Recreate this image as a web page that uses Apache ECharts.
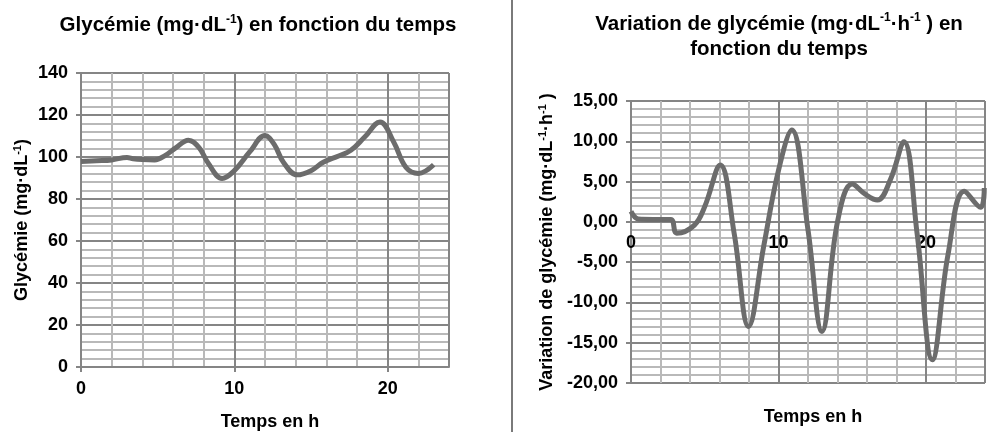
<!DOCTYPE html>
<html lang="fr">
<head>
    <meta charset="UTF-8">
    <title>Glycémie</title>
    <script src="https://cdn.jsdelivr.net/npm/echarts@6/dist/echarts.min.js"></script>
    <style>
        html, body { margin: 0; padding: 0; background: #fff; }
    </style>
</head>
<body>
<div id="main" style="width: 1000px;height:436px;"></div>
</body>
<script type="text/javascript">
    // glycémie (mg/dL) relevée au cours du temps (h)
    var glyTime = [0, 1, 2, 3, 3.4, 4, 4.8, 5.5, 6.2, 7, 7.7, 8.3, 9.2, 10, 11, 12, 12.6, 13.2, 14.1, 15, 15.8, 16.8, 17.6, 18.5, 19.5, 20.4, 21.2, 22, 23];
    var glyValue = [97.8, 98.2, 98.6, 99.8, 99.2, 98.8, 98.6, 100.8, 104.5, 108, 104.5, 97, 89.8, 93.5, 102.4, 110.2, 106, 97.5, 91.5, 93.5, 97.5, 100.5, 103.2, 109.5, 116.7, 107, 95, 92.2, 96.3];

    // variation de glycémie (mg/dL/h)
    var varTime = [0, 0.5, 1.5, 2.7, 3.1, 4.3, 5, 6.05, 7, 7.97, 9, 10, 10.9, 12, 12.95, 14, 15, 15.9, 16.7, 17.6, 18.5, 19.4, 20.43, 21.5, 22.6, 23.7, 23.95];
    var varValue = [1.3, 0.35, 0.3, 0.3, -1.4, -0.4, 1.9, 7.06, -1.5, -13, -3, 6.4, 11.4, -1, -13.6, 0, 4.7, 3.4, 2.7, 5.3, 9.95, -1.5, -17.1, -4, 3.8, 1.8, 4.2];

    // graduations
    var xTicks = [0, 10, 20];
    var glyTicks = [0, 20, 40, 60, 80, 100, 120, 140];
    var varTicks = [-20, -15, -10, -5, 0, 5, 10, 15];

    var police = 'Liberation Sans';
    var noir = '#000';
    var gris = '#6c6c6c';
    var grilleFine = '#b9b9b9';
    var grilleForte = '#858585';

    // zones de tracé
    var grille1 = { left: 81, top: 73, width: 368, height: 294 };
    var grille2 = { left: 631, top: 101, width: 354, height: 282 };

    function paires(xs, ys) {
        return xs.map(function (x, i) { return [x, ys[i]]; });
    }

    function styleTexte(taille, hauteur) {
        return { fontSize: taille, fontWeight: 'bold', fontFamily: police, color: noir, lineHeight: hauteur };
    }
    function styleExposant(taille, hauteur) {
        return { fontSize: taille, fontWeight: 'bold', fontFamily: police, color: noir, verticalAlign: 'top', lineHeight: hauteur };
    }

    function axeX(gridIndex, avecTicks, decalage) {
        return {
            type: 'value',
            gridIndex: gridIndex,
            min: xTicks[0],
            max: 24,
            interval: xTicks[1] - xTicks[0],
            offset: decalage,
            axisLine: { show: true, onZero: false, lineStyle: { color: grilleForte, width: 2 } },
            axisTick: { show: avecTicks, length: 5, lineStyle: { color: grilleForte, width: 2 } },
            axisLabel: {
                margin: avecTicks ? 13 : 12,
                color: noir, fontSize: 18, fontWeight: 'bold', fontFamily: police,
                showMaxLabel: false
            },
            splitLine: { show: true, lineStyle: { color: grilleForte, width: 2 } },
            minorTick: { show: false, splitNumber: 5 },
            minorSplitLine: { show: true, lineStyle: { color: grilleFine, width: 2 } }
        };
    }

    function axeY(gridIndex, ticks, nom, gap, format) {
        return {
            type: 'value',
            gridIndex: gridIndex,
            min: ticks[0],
            max: ticks[ticks.length - 1],
            interval: ticks[1] - ticks[0],
            name: nom,
            nameLocation: 'middle',
            nameRotate: 90,
            nameGap: gap,
            nameTextStyle: {
                color: noir, fontSize: 18, fontWeight: 'bold', fontFamily: police,
                rich: { t: styleTexte(18, 21), s: styleExposant(11, 21) }
            },
            axisLine: { show: true, lineStyle: { color: grilleForte, width: 2 } },
            axisTick: { show: true, length: 5, lineStyle: { color: grilleForte, width: 2 } },
            axisLabel: {
                margin: 13,
                color: noir, fontSize: 18, fontWeight: 'bold', fontFamily: police,
                formatter: format
            },
            splitLine: { show: true, lineStyle: { color: grilleForte, width: 2 } },
            minorTick: { show: false, splitNumber: 5 },
            minorSplitLine: { show: true, lineStyle: { color: grilleFine, width: 2 } }
        };
    }

    // l'axe des temps du 2e graphique passe par y = 0
    var yMin2 = varTicks[0], yMax2 = varTicks[varTicks.length - 1];
    var decalageZero = -grille2.height * (0 - yMin2) / (yMax2 - yMin2);

    var myChart = echarts.init(document.getElementById('main'));

    var option = {
        animation: false,
        title: [
            {
                text: '{t|Glycémie (mg·dL}{s|-1}{t|) en fonction du temps}',
                left: 253, top: 9, textAlign: 'center',
                textStyle: { rich: { t: styleTexte(20.5, 22), s: styleExposant(12, 22) } }
            },
            {
                text: '{t|Variation de glycémie (mg·dL}{s|-1}{t|·h}{s|-1}{t| ) en}\n{t|fonction du temps}',
                left: 774, top: 7, textAlign: 'center',
                textStyle: { rich: { t: styleTexte(20.5, 25), s: styleExposant(12, 25) } }
            },
            {
                text: 'Temps en h',
                left: 265, top: 407, textAlign: 'center',
                textStyle: styleTexte(18, 21)
            },
            {
                text: 'Temps en h',
                left: 808, top: 402, textAlign: 'center',
                textStyle: styleTexte(18, 21)
            }
        ],
        grid: [grille1, grille2],
        xAxis: [axeX(0, true, 0), axeX(1, false, decalageZero)],
        yAxis: [
            axeY(0, glyTicks, '{t|Glycémie (mg·dL}{s|-1}{t|)}', 48, function (v) { return String(v); }),
            axeY(1, varTicks, '{t|Variation de glycémie (mg·dL}{s|-1}{t|·h}{s|-1}{t| )}', 73, function (v) { return v.toFixed(2).replace('.', ','); })
        ],
        graphic: [
            {
                type: 'line',
                shape: { x1: 512, y1: 0, x2: 512, y2: 432 },
                style: { stroke: '#7a7a7a', lineWidth: 2 }
            }
        ],
        series: [
            {
                type: 'line',
                xAxisIndex: 0, yAxisIndex: 0,
                data: paires(glyTime, glyValue),
                smooth: 0.4,
                showSymbol: false,
                lineStyle: { color: gris, width: 5 }
            },
            {
                type: 'line',
                xAxisIndex: 1, yAxisIndex: 1,
                data: paires(varTime, varValue),
                smooth: 0.4,
                showSymbol: false,
                lineStyle: { color: gris, width: 5 }
            }
        ]
    };

    myChart.setOption(option);
</script>
</html>
